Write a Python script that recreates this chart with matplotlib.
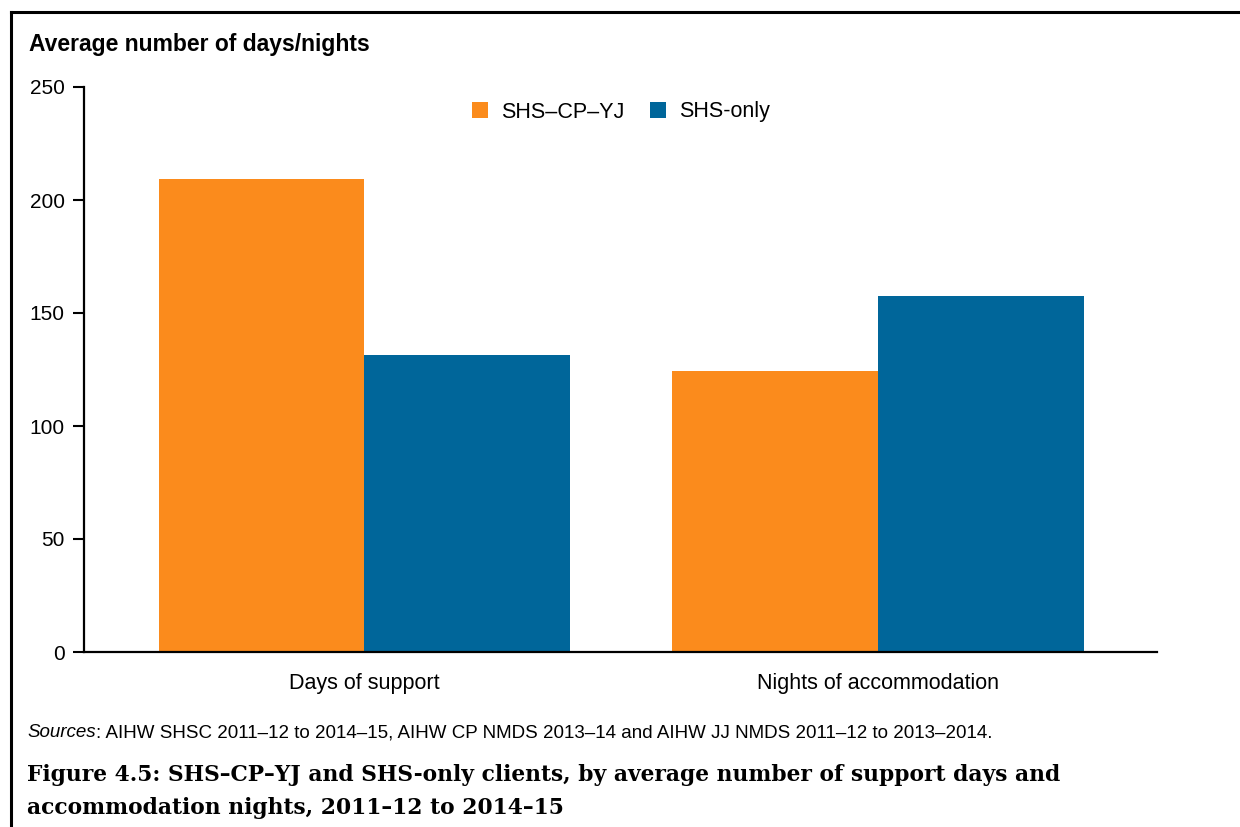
import matplotlib
matplotlib.use("Agg")
import matplotlib.pyplot as plt
import numpy as np
from matplotlib.lines import Line2D

plt.rcParams['font.family'] = ['Liberation Sans', 'DejaVu Sans']

# data
categories = ["Days of support", "Nights of accommodation"]
series_names = ["SHS\u2013CP\u2013YJ", "SHS-only"]
shs_cp_yj = [209.5, 124.5]
shs_only = [131.5, 157.5]
yticks = [0, 50, 100, 150, 200, 250]

ylabel = "Average number of days/nights"
sources_lead = "Sources"
sources_rest = (": AIHW SHSC 2011\u201312 to 2014\u201315, AIHW CP NMDS 2013\u201314 "
                "and AIHW JJ NMDS 2011\u201312 to 2013\u20132014.")
title_lines = ["Figure 4.5: SHS\u2013CP\u2013YJ and SHS-only clients, by average number of support days and",
               "accommodation nights, 2011\u201312 to 2014\u201315"]

orange = '#FB8B1C'
blue = '#00669A'

fig = plt.figure(figsize=(12.4, 8.27), dpi=100)
W, H = 1240, 827
ax = fig.add_axes([84 / W, 1 - 652 / H, (1157 - 84) / W, (652 - 87) / H])

x = np.arange(len(categories))
bw = 0.4
ax.bar(x - bw / 2, shs_cp_yj, width=bw, color=orange, label=series_names[0], zorder=2)
ax.bar(x + bw / 2, shs_only, width=bw, color=blue, label=series_names[1], zorder=2)

ax.set_xlim(-0.545, 1.543)
ax.set_ylim(0, 250)
ax.set_yticks(yticks)
ax.set_xticks(x)
ax.set_xticklabels(categories, fontsize=15.5)
ax.tick_params(axis='x', length=0, pad=15)
ax.tick_params(axis='y', length=8, width=1.5, pad=6, labelsize=15, direction='out')
for s in ['top', 'right']:
    ax.spines[s].set_visible(False)
for s in ['left', 'bottom']:
    ax.spines[s].set_linewidth(1.6)
    ax.spines[s].set_zorder(3)

fig.legend(loc='center', bbox_to_anchor=(621 / W, 1 - 112 / H), ncol=2, frameon=False,
           fontsize=15.5, handlelength=0.75, handleheight=0.75, handletextpad=0.6,
           columnspacing=1.2)

fig.text(29 / W, 1 - 45 / H, ylabel, fontsize=16.5, fontweight='bold', va='center', ha='left')

# sources line: italic lead word, then the rest on the same baseline
src_y = 1 - 737 / H
t = fig.text(27 / W, src_y, sources_lead, fontsize=13.5, style='italic', va='baseline', ha='left')
fig.canvas.draw()
bb = t.get_window_extent()
fig.text(bb.x1 / W, src_y, sources_rest, fontsize=13.5, va='baseline', ha='left')

for i, line in enumerate(title_lines):
    fig.text(27 / W, 1 - (775 + 33 * i) / H, line, fontsize=15.7, fontweight='bold',
             family=['DejaVu Serif'], va='center', ha='left')

# border round the chart
fig.add_artist(Line2D([11 / W, 1], [1 - 12 / H, 1 - 12 / H], transform=fig.transFigure,
                      color='black', lw=2.2))
fig.add_artist(Line2D([11 / W, 11 / W], [1 - 12 / H, 0], transform=fig.transFigure,
                      color='black', lw=2.2))

fig.savefig('out.png', dpi=100)
